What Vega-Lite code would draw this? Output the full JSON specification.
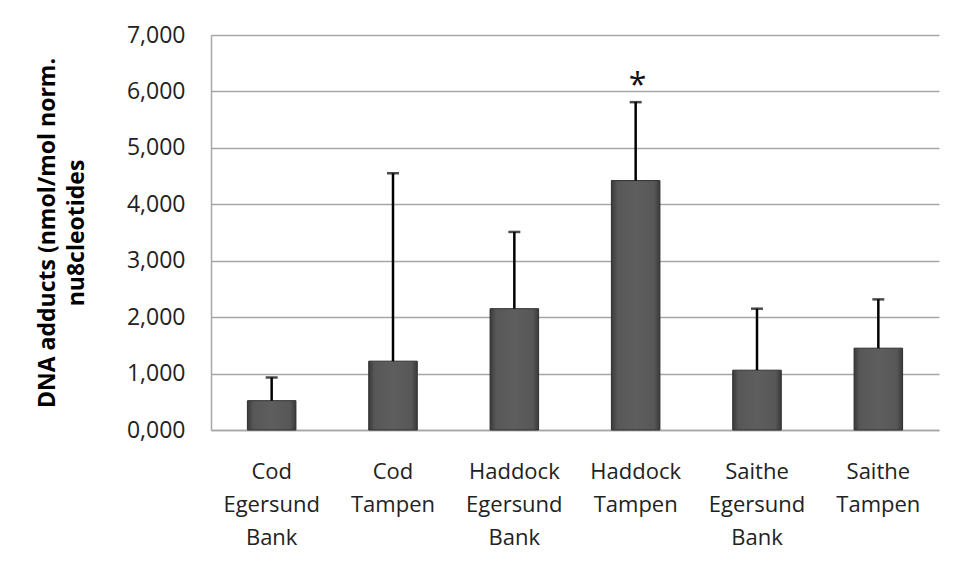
{
  "$schema": "https://vega.github.io/schema/vega-lite/v6.json",
  "autosize": {"type": "none"},
  "width": 728,
  "height": 395,
  "padding": {"left": 211, "top": 35, "right": 18, "bottom": 148},
  "background": "#ffffff",
  "data": {
    "values": [
      {"group": "Cod Egersund Bank", "mean": 0.52, "upper": 0.93, "sig": ""},
      {"group": "Cod Tampen", "mean": 1.22, "upper": 4.55, "sig": ""},
      {"group": "Haddock Egersund Bank", "mean": 2.15, "upper": 3.51, "sig": ""},
      {"group": "Haddock Tampen", "mean": 4.42, "upper": 5.81, "sig": "*"},
      {"group": "Saithe Egersund Bank", "mean": 1.06, "upper": 2.15, "sig": ""},
      {"group": "Saithe Tampen", "mean": 1.45, "upper": 2.315, "sig": ""}
    ]
  },
  "encoding": {
    "x": {
      "field": "group",
      "type": "nominal",
      "sort": null,
      "scale": {"paddingInner": 0.6, "paddingOuter": 0.3},
      "axis": {
        "title": null,
        "labelAngle": 0,
        "labelExpr": "split(datum.value, ' ')",
        "labelFont": "Open Sans",
        "labelFontSize": 22,
        "labelColor": "#222222",
        "labelLineHeight": 33,
        "labelPadding": 31,
        "labelBaseline": "top",
        "ticks": false,
        "domainColor": "#a6a6a6",
        "domainWidth": 1.5
      }
    }
  },
  "layer": [
    {
      "mark": {
        "type": "bar",
        "stroke": "#2f2f2f",
        "strokeWidth": 1,
        "color": {
          "gradient": "linear",
          "x1": 0, "x2": 1, "y1": 0, "y2": 0,
          "stops": [
            {"offset": 0, "color": "#3a3a3a"},
            {"offset": 0.12, "color": "#575757"},
            {"offset": 0.5, "color": "#5e5e5e"},
            {"offset": 0.88, "color": "#575757"},
            {"offset": 1, "color": "#3a3a3a"}
          ]
        }
      },
      "encoding": {
        "y": {
          "field": "mean",
          "type": "quantitative",
          "scale": {"domain": [0, 7], "nice": false},
          "axis": {
            "values": [0, 1, 2, 3, 4, 5, 6, 7],
            "labelExpr": "replace(format(datum.value, '.3f'), '.', ',')",
            "labelFont": "Open Sans",
            "labelFontSize": 23,
            "labelColor": "#222222",
            "labelPadding": 26,
            "ticks": false,
            "grid": true,
            "gridColor": "#a6a6a6",
            "gridWidth": 1.5,
            "domainColor": "#a6a6a6",
            "domainWidth": 1.5,
            "title": ["DNA adducts (nmol/mol norm.", "nu8cleotides"],
            "titleFont": "Open Sans",
            "titleFontSize": 23,
            "titleFontWeight": "bold",
            "titleColor": "#000000",
            "titleLineHeight": 29,
            "titlePadding": 38
          }
        }
      }
    },
    {
      "mark": {"type": "rule", "color": "#000000", "strokeWidth": 2.5},
      "encoding": {
        "y": {"field": "mean", "type": "quantitative"},
        "y2": {"field": "upper"}
      }
    },
    {
      "mark": {"type": "tick", "color": "#000000", "orient": "horizontal", "size": 12, "thickness": 2.5},
      "encoding": {
        "y": {"field": "upper", "type": "quantitative"}
      }
    },
    {
      "mark": {"type": "text", "font": "Open Sans", "fontSize": 32, "color": "#111111", "baseline": "alphabetic", "dy": -6, "dx": 2},
      "encoding": {
        "y": {"field": "upper", "type": "quantitative"},
        "text": {"field": "sig"}
      }
    }
  ],
  "config": {
    "view": {"stroke": null}
  }
}
